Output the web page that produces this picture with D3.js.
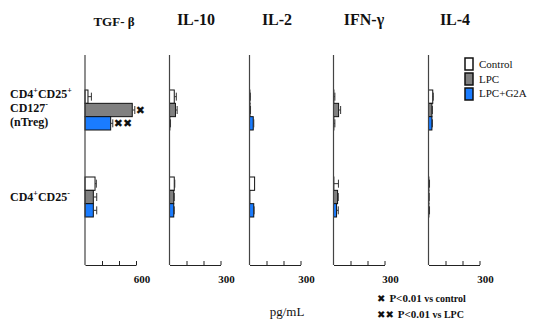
<!DOCTYPE html>
<html>
<head>
<meta charset="utf-8">
<script src="https://cdn.jsdelivr.net/npm/d3@7"></script>
<style>
  body { margin: 0; background: #fff; }
  text { font-family: "Liberation Serif", "Times New Roman", serif; fill: #111; }
</style>
</head>
<body>
<svg id="chart" width="533" height="324"></svg>
<script>
// ---- data ----
const cytokines = ["TGF-β", "IL-10", "IL-2", "IFN-γ", "IL-4"];
const axisMax   = [600, 300, 300, 300, 300];
const groups    = ["nTreg", "CD25neg"];
const series    = ["Control", "LPC", "LPC+G2A"];

// values[cytokine][group][series]  (pg/mL)
const values = [
  [[35, 556, 302], [118, 98, 98]],
  [[28, 35, 2],    [28, 25, 25]],
  [[2, 3, 22],     [30, 2, 25]],
  [[2, 30, 2],     [2, 24, 18]],
  [[25, 20, 20],   [2, 2, 2]]
];
const errors = [
  [[40, 30, 25],   [15, 40, 40]],
  [[12, 10, 4],    [3, 3, 3]],
  [[3, 3, 3],      [0, 0, 2]],
  [[6, 12, 6],     [27, 4, 10]],
  [[3, 3, 3],      [4, 2, 4]]
];
// significance marks: [cytokine, group, series, mark]
const marks = [[0, 0, 1, "✖"], [0, 0, 2, "✖✖"]];

// ---- layout ----
const panelX = [85, 169.5, 249.5, 333.5, 428.5];
const panelW = 51;
const axTop = 55, axBottom = 265;
const colors = { "Control": "#ffffff", "LPC": "#808080", "LPC+G2A": "#1a7cff" };

const svg = d3.select("#chart");

const y = d3.scalePoint().domain(groups).range([110, 197]);
const ySub = d3.scaleBand().domain(series).range([-20, 20]).padding(0);

cytokines.forEach(function(name, ci) {
  let x = d3.scaleLinear().domain([0, axisMax[ci]]).range([panelX[ci], panelX[ci] + panelW]);
  let g = svg.append("g");

  // title
  g.append("text")
    .attr("x", [114, 196, 277, 364, 455][ci])
    .attr("y", ci == 0 ? 26 : 25)
    .attr("text-anchor", "middle")
    .style("font-size", ci == 0 ? "13px" : "16px")
    .style("font-weight", "bold")
    .text(ci == 0 ? "TGF- β" : name);

  // bars
  groups.forEach(function(grp, gi) {
    series.forEach(function(s, si) {
      let v = values[ci][gi][si], e = errors[ci][gi][si];
      let by = y(grp) + ySub(s);
      let bh = ySub.bandwidth();
      g.append("rect")
        .attr("x", x(0))
        .attr("y", by)
        .attr("width", x(v) - x(0))
        .attr("height", bh)
        .attr("fill", colors[s])
        .attr("stroke", "#111")
        .attr("stroke-width", 1);
      if (e > 0) {
        g.append("line")
          .attr("x1", x(v)).attr("x2", x(v + e))
          .attr("y1", by + bh / 2).attr("y2", by + bh / 2)
          .attr("stroke", "#333");
        g.append("line")
          .attr("x1", x(v + e)).attr("x2", x(v + e))
          .attr("y1", by + bh / 2 - 4).attr("y2", by + bh / 2 + 4)
          .attr("stroke", "#333");
      }
    });
  });

  // axes
  g.append("line")
    .attr("x1", x(0)).attr("x2", x(0))
    .attr("y1", axTop).attr("y2", axBottom)
    .attr("stroke", "#444").attr("stroke-width", 1.2);

  let ax = d3.axisBottom(x)
    .tickValues([axisMax[ci] / 3, axisMax[ci] * 2 / 3, axisMax[ci]])
    .tickSize(-4)
    .tickSizeOuter(0)
    .tickFormat("");
  let axG = g.append("g")
    .attr("transform", "translate(0," + axBottom + ")")
    .call(ax);
  axG.select(".domain").attr("stroke", "#222").attr("stroke-width", 1.2);
  axG.selectAll(".tick line").attr("stroke", "#222");

  g.append("text")
    .attr("x", x(axisMax[ci]) + 6)
    .attr("y", 283)
    .attr("text-anchor", "middle")
    .style("font-size", "11px")
    .style("font-weight", "bold")
    .text(axisMax[ci]);

  // significance
  marks.filter(m => m[0] == ci).forEach(function(m) {
    let gi = m[1], si = m[2];
    let v = values[ci][gi][si], e = errors[ci][gi][si];
    g.append("text")
      .attr("x", x(v + e) + 1)
      .attr("y", y(groups[gi]) + ySub(series[si]) + ySub.bandwidth() / 2 + 4)
      .style("font-size", "11px")
      .style("font-family", "DejaVu Sans")
      .text(m[3]);
  });
});

// row labels (text with superscripts)
function supLabel(sel, parts) {
  let prevSup = false;
  parts.forEach(function(p) {
    sel.append("tspan").attr("dy", prevSup ? 5 : 0).text(p[0]);
    prevSup = false;
    if (p[1]) {
      sel.append("tspan").attr("dy", -5).style("font-size", "8px").text(p[1]);
      prevSup = true;
    }
  });
}
let rl = svg.append("g").style("font-size", "12px").style("font-weight", "bold");
supLabel(rl.append("text").attr("x", 10).attr("y", 98), [["CD4", "+"], ["CD25", "+"]]);
supLabel(rl.append("text").attr("x", 10).attr("y", 112), [["CD127", "-"]]);
rl.append("text").attr("x", 10).attr("y", 126).text("(nTreg)");
supLabel(rl.append("text").attr("x", 10).attr("y", 201), [["CD4", "+"], ["CD25", "-"]]);

// legend
let lg = svg.append("g");
series.forEach(function(s, i) {
  lg.append("rect")
    .attr("x", 465).attr("y", 58 + i * 15)
    .attr("width", 8).attr("height", 12)
    .attr("fill", colors[s])
    .attr("stroke", "#111").attr("stroke-width", 1.5);
  lg.append("text")
    .attr("x", 479).attr("y", 68 + i * 14.5)
    .style("font-size", "11px")
    .text(s);
});

// footer
svg.append("text").attr("x", 287).attr("y", 316)
  .attr("text-anchor", "middle").style("font-size", "13px").text("pg/mL");

const notes = [["✖", "P<0.01", " vs control"], ["✖✖", "P<0.01", " vs LPC"]];
notes.forEach(function(n, i) {
  let t = svg.append("text").attr("x", 377).attr("y", 302 + i * 16)
    .style("font-size", "11px").style("font-weight", "bold");
  t.append("tspan").style("font-family", "DejaVu Sans").style("font-size", "10px").text(n[0]);
  t.append("tspan").attr("dx", 4).text(n[1]);
  t.append("tspan").style("font-size", "10px").text(n[2]);
});
</script>
</body>
</html>
